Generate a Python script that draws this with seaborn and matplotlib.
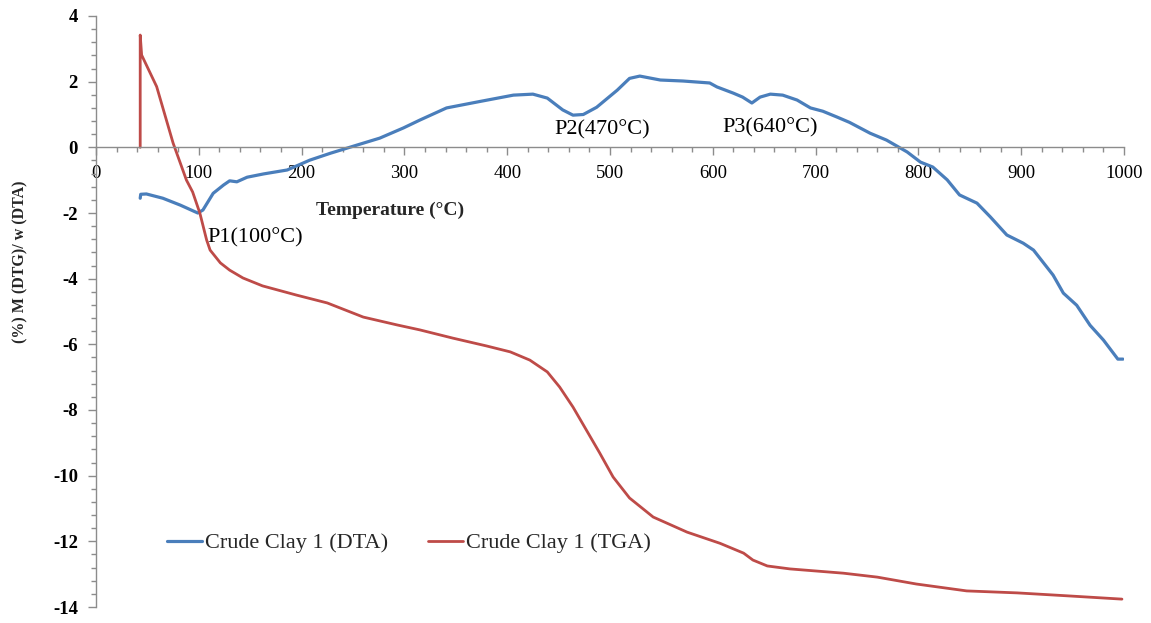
import numpy as np
import pandas as pd
import matplotlib
matplotlib.use("Agg")
import matplotlib.pyplot as plt
from matplotlib.ticker import MultipleLocator
import seaborn as sns

# ---- data ----
dta_temp = [43, 43.5, 49, 65, 82, 99, 104, 114, 124, 130, 137, 147, 163, 186, 208, 228, 254,
            276, 299, 315, 341, 374, 406, 425, 439, 454, 464, 474, 487, 507, 519, 529,
            549, 571, 597, 604, 620, 629, 638, 646, 656, 668, 682, 695, 707, 721, 733,
            753, 769, 789, 802, 814, 828, 840, 857, 870, 886, 902, 912, 931, 941, 954,
            967, 980, 994, 999]
dta_val = [-1.55, -1.43, -1.42, -1.55, -1.76, -2.0, -1.91, -1.4, -1.15, -1.02, -1.05, -0.91,
           -0.81, -0.69, -0.39, -0.18, 0.07, 0.28, 0.59, 0.83, 1.2, 1.4, 1.59, 1.62, 1.5,
           1.14, 0.98, 1.0, 1.22, 1.74, 2.1, 2.17, 2.05, 2.02, 1.96, 1.84, 1.65, 1.53,
           1.35, 1.53, 1.62, 1.59, 1.44, 1.2, 1.1, 0.92, 0.76, 0.43, 0.22, -0.14, -0.45,
           -0.6, -0.99, -1.45, -1.7, -2.12, -2.67, -2.92, -3.13, -3.89, -4.44, -4.81,
           -5.42, -5.87, -6.45, -6.45]

tga_temp = [43, 43, 44.4, 59, 75, 88, 94, 101, 107.6, 111, 121, 130, 143, 162, 195, 225,
            260, 293, 315, 347, 380, 403, 422, 439, 451, 464, 477, 490, 503, 519, 542,
            575, 607, 630, 639, 653, 675, 727, 760, 798, 847, 896, 945, 998]
tga_val = [0.0, 3.42, 2.81, 1.85, 0.13, -1.0, -1.36, -2.0, -2.82, -3.13, -3.52, -3.74,
           -3.98, -4.22, -4.5, -4.74, -5.17, -5.41, -5.56, -5.81, -6.05, -6.23, -6.48,
           -6.84, -7.3, -7.91, -8.61, -9.31, -10.04, -10.68, -11.26, -11.72, -12.06,
           -12.36, -12.57, -12.75, -12.84, -12.97, -13.09, -13.3, -13.51, -13.57,
           -13.66, -13.76]

series_names = ["Crude Clay 1 (DTA)", "Crude Clay 1 (TGA)"]
peak_labels = ["P1(100°C)", "P2(470°C)", "P3(640°C)"]
peak_x = [108, 446, 609]
peak_y = [-2.76, 0.53, 0.59]

x_label = "Temperature (°C)"
y_label = "(%) M (DTG)/ w (DTA)"

# ---- styling ----
sns.set_theme(style="white")
plt.rcParams["font.family"] = ["Liberation Serif", "DejaVu Serif"]
plt.rcParams["axes.unicode_minus"] = False

blue = "#4A7EBB"
red = "#BE4B48"
axis_grey = "#8C8C8C"

fig = plt.figure(figsize=(11.51, 6.23), dpi=100)
ax = fig.add_axes([96 / 1151, 16 / 623, 1028 / 1151, 591 / 623])

df_dta = pd.DataFrame({"T": dta_temp, "v": dta_val})
df_tga = pd.DataFrame({"T": tga_temp, "v": tga_val})

sns.lineplot(data=df_dta, x="T", y="v", sort=False, estimator=None, color=blue,
             linewidth=2.3, ax=ax, label=series_names[0])
sns.lineplot(data=df_tga, x="T", y="v", sort=False, estimator=None, color=red,
             linewidth=2.0, ax=ax, label=series_names[1])

ax.set_xlim(0, 1000)
ax.set_ylim(-14, 4)

ax.spines["top"].set_visible(False)
ax.spines["right"].set_visible(False)
ax.spines["bottom"].set_position(("data", 0))
for s in ("left", "bottom"):
    ax.spines[s].set_color(axis_grey)
    ax.spines[s].set_linewidth(1.0)

ax.xaxis.set_major_locator(MultipleLocator(100))
ax.xaxis.set_minor_locator(MultipleLocator(20))
ax.yaxis.set_major_locator(MultipleLocator(2))
ax.yaxis.set_minor_locator(MultipleLocator(0.4))

ax.tick_params(axis="both", which="major", direction="out", length=6, width=1,
               color=axis_grey, labelcolor="black")
ax.tick_params(axis="both", which="minor", direction="out", length=3.5, width=1,
               color=axis_grey)
ax.tick_params(axis="x", which="both", bottom=True, pad=7, labelsize=13.5)
ax.tick_params(axis="y", which="both", left=True, pad=7, labelsize=13.5)
for lab in ax.get_yticklabels():
    lab.set_fontweight("bold")

ax.set_xlabel(x_label, fontsize=14, fontweight="bold", va="top")
ax.xaxis.set_label_coords(0.286, 0.686)
ax.set_ylabel(y_label, fontsize=11.5, fontweight="bold")
ax.yaxis.set_label_coords(-0.066, 0.585)

for txt, px, py in zip(peak_labels, peak_x, peak_y):
    ax.text(px, py, txt, fontsize=16, ha="left", va="center", color="black")

leg = ax.legend(loc="center left", bbox_to_anchor=(0.05, 0.108), ncol=2, frameon=False,
                fontsize=16, handlelength=1.55, handletextpad=0.15, columnspacing=1.8)

fig.savefig("out.png", dpi=100, facecolor="white")
